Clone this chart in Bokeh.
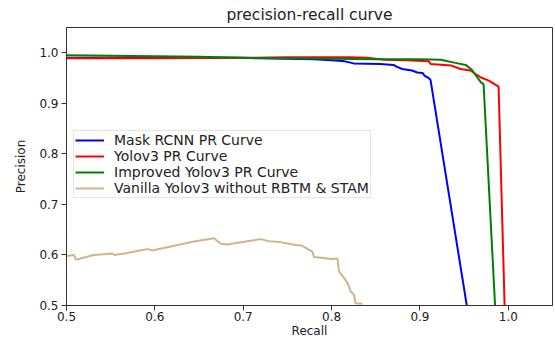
from bokeh.plotting import figure
from bokeh.models import Range1d, FixedTicker, PrintfTickFormatter, Legend, LegendItem
from bokeh.embed import file_html
from bokeh.resources import INLINE

# ---- data ----
mask_x = [0.5, 0.55, 0.6, 0.65, 0.70, 0.72, 0.75, 0.78, 0.80, 0.815, 0.825, 0.855,
          0.87, 0.874, 0.88, 0.891, 0.897, 0.903, 0.905, 0.91, 0.912, 0.953]
mask_y = [0.990, 0.990, 0.990, 0.990, 0.990, 0.989, 0.988, 0.987, 0.985, 0.983, 0.979, 0.978,
          0.976, 0.972, 0.968, 0.965, 0.961, 0.960, 0.955, 0.950, 0.946, 0.5]

yolo_x = [0.5, 0.6, 0.7, 0.75, 0.80, 0.82, 0.84, 0.85, 0.86, 0.884, 0.91, 0.912,
          0.935, 0.946, 0.957, 0.969, 0.978, 0.989, 0.9958]
yolo_y = [0.989, 0.989, 0.990, 0.991, 0.991, 0.991, 0.990, 0.988, 0.986, 0.985, 0.983, 0.978,
          0.975, 0.968, 0.965, 0.951, 0.945, 0.933, 0.5]

impr_x = [0.5, 0.55, 0.6, 0.65, 0.7, 0.75, 0.8, 0.85, 0.9, 0.9235, 0.94, 0.9517,
          0.959, 0.969, 0.972, 0.985]
impr_y = [0.995, 0.994, 0.993, 0.992, 0.990, 0.989, 0.988, 0.987, 0.987, 0.986, 0.980, 0.976,
          0.966, 0.9415, 0.938, 0.5]

van_x = [0.5, 0.5086, 0.5105, 0.531, 0.552, 0.554, 0.569, 0.5916, 0.597, 0.618, 0.6443,
         0.667, 0.6746, 0.682, 0.701, 0.7198, 0.729, 0.742, 0.7575, 0.767, 0.7745, 0.778,
         0.780, 0.7914, 0.799, 0.8066, 0.8084, 0.814, 0.818, 0.8216, 0.8253, 0.827, 0.829, 0.8348]
van_y = [0.598, 0.5998, 0.5906, 0.600, 0.603, 0.600, 0.604, 0.6116, 0.609, 0.6168, 0.6266,
         0.633, 0.622, 0.6207, 0.626, 0.6313, 0.627, 0.6254, 0.620, 0.618, 0.610, 0.607,
         0.596, 0.594, 0.592, 0.593, 0.5675, 0.5545, 0.5447, 0.528, 0.5217, 0.505, 0.504, 0.504]

x_ticks = [0.5, 0.6, 0.7, 0.8, 0.9, 1.0]
y_ticks = [0.5, 0.6, 0.7, 0.8, 0.9, 1.0]

labels = ["Mask RCNN PR Curve", "Yolov3 PR Curve", "Improved Yolov3 PR Curve",
          "Vanilla Yolov3 without RBTM & STAM"]
colors = ["#0000ff", "#ff0000", "#008000", "#d2b48c"]

FONT = "DejaVu Sans"

p = figure(width=555, height=340, output_backend="svg", toolbar_location=None,
           x_range=Range1d(0.5, 1.05), y_range=Range1d(0.5, 1.05),
           min_border_left=66, min_border_right=3, min_border_top=26, min_border_bottom=34)

p.title.text = "precision-recall curve"
p.title.align = "center"
p.title.text_font = FONT
p.title.text_font_size = "15.5px"
p.title.text_font_style = "normal"
p.title.text_color = "#222222"
p.title.standoff = 7

p.grid.visible = False
p.outline_line_color = "#333333"
p.outline_line_width = 1
p.background_fill_color = "white"
p.border_fill_color = "white"

for ax in (p.xaxis[0], p.yaxis[0]):
    ax.major_label_text_font = FONT
    ax.major_label_text_font_size = "12px"
    ax.major_label_text_color = "#222222"
    ax.axis_label_text_font = FONT
    ax.axis_label_text_font_size = "12px"
    ax.axis_label_text_font_style = "normal"
    ax.axis_label_text_color = "#222222"
    ax.major_tick_out = 5
    ax.major_tick_in = 0
    ax.minor_tick_out = 0
    ax.minor_tick_in = 0
    ax.axis_line_color = "#333333"
    ax.major_tick_line_color = "#333333"
    ax.formatter = PrintfTickFormatter(format="%.1f")

p.xaxis.ticker = FixedTicker(ticks=x_ticks)
p.yaxis.ticker = FixedTicker(ticks=y_ticks)
p.xaxis.axis_label = "Recall"
p.yaxis.axis_label = "Precision"
p.xaxis.major_label_standoff = 1
p.yaxis.major_label_standoff = 3
p.xaxis.axis_label_standoff = 0
p.yaxis.axis_label_standoff = 8

series = [(mask_x, mask_y), (yolo_x, yolo_y), (impr_x, impr_y), (van_x, van_y)]
renderers = []
for (xs, ys), c in zip(series, colors):
    r = p.line(xs, ys, line_color=c, line_width=2)
    renderers.append(r)

legend = Legend(items=[LegendItem(label=l, renderers=[r]) for l, r in zip(labels, renderers)],
                location=(7, 107))
legend.label_text_font = FONT
legend.label_text_font_size = "14px"
legend.label_text_color = "#222222"
legend.glyph_width = 29
legend.glyph_height = 16
legend.label_height = 16
legend.spacing = 0
legend.padding = 1
legend.margin = 0
legend.label_standoff = 10
legend.border_line_color = "#cccccc"
legend.border_line_width = 1
legend.background_fill_alpha = 0.8
p.add_layout(legend, "center")

open("out.html", "w").write(file_html(p, INLINE))
